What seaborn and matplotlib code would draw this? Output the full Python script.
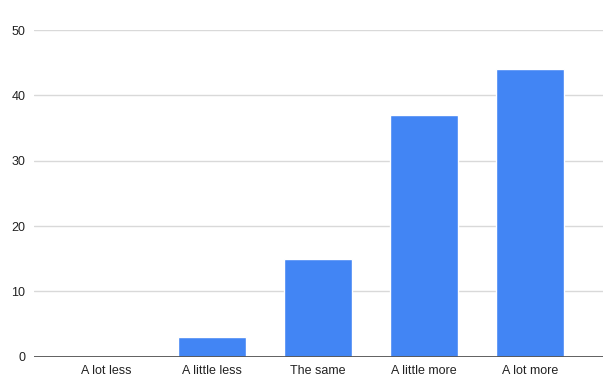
import matplotlib
matplotlib.use("Agg")
import matplotlib.pyplot as plt
import seaborn as sns
import pandas as pd

categories = ["A lot less", "A little less", "The same", "A little more", "A lot more"]
counts = [0, 3, 15, 37, 44]
y_ticks = [0, 10, 20, 30, 40, 50]

df = pd.DataFrame({"category": categories, "count": counts})

sns.set_style("white")
plt.rcParams["font.family"] = ["Liberation Sans", "DejaVu Sans"]

fig = plt.figure(figsize=(6.03, 3.9), dpi=100)
ax = fig.add_axes([0.056, 0.085, 0.944, 0.838])

sns.barplot(data=df, x="category", y="count", color="#4285f4", saturation=1,
            width=0.64, ax=ax, zorder=3)

ax.set_ylim(0, 50)
ax.set_xlim(-0.68, 4.69)
ax.set_yticks(y_ticks)
ax.yaxis.grid(True, color="#d9d9d9", linewidth=1, zorder=0)
ax.axhline(0, color="#555555", linewidth=1.3, zorder=4)
for s in ax.spines.values():
    s.set_visible(False)
ax.tick_params(axis="both", length=0, labelsize=9, colors="#222222")
ax.tick_params(axis="y", pad=6)
ax.tick_params(axis="x", pad=6)
ax.set_xlabel("")
ax.set_ylabel("")

fig.savefig("out.png", dpi=100)
